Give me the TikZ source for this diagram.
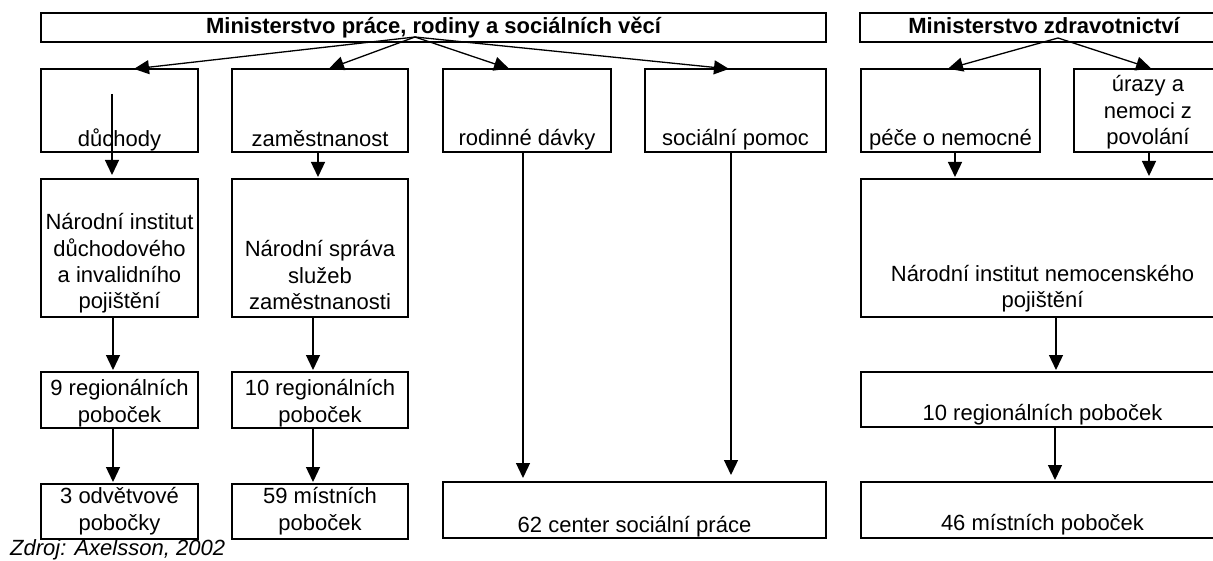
\documentclass[tikz,border=0pt]{standalone}
\usepackage{fontspec}
\setmainfont{Liberation Sans}
\usetikzlibrary{arrows.meta}
\tikzset{
  box/.style={draw, line width=2pt, rectangle, inner sep=0pt, outer sep=0pt},
  txt/.style={inner sep=0pt, outer sep=0pt, anchor=south, align=center, text depth=0pt,
              font=\fontsize{22}{26.5}\selectfont},
  arr/.style={-{Triangle[length=15pt 0 0,width=14pt 0 0]}, line width=1.3pt},
}
\newcommand\mkbox[7]{%
  \node[box, minimum width={(#4)-(#2)}, minimum height={(#5)-(#3)}] (#1) at ({((#2)+(#4))/2},{((#3)+(#5))/2}) {};
  \node[txt] (#1t) at ([yshift=#6pt]#1.south) {#7};}
\begin{document}
\begin{tikzpicture}[x=1pt,y=-1pt]
\useasboundingbox (0,0) rectangle (1213,561);
\mkbox{mpsv}{41}{13}{826}{42}{8}{\bfseries Ministerstvo práce, rodiny a sociálních věcí}
\mkbox{mz}{860}{13}{1228}{42}{8}{\bfseries Ministerstvo zdravotnictví}
\mkbox{duch}{41}{69}{198}{152}{5}{důchody}
\mkbox{zam}{232}{69}{408}{152}{5}{zaměstnanost}
\mkbox{rod}{443}{69}{611}{152}{6}{rodinné dávky}
\mkbox{soc}{645}{69}{826}{152}{6}{sociální pomoc}
\mkbox{pece}{861}{69}{1040}{152}{6}{péče o nemocné}
\mkbox{uraz}{1074}{69}{1222}{152}{7}{úrazy a\\nemoci z\\povolání}
\mkbox{ni}{41}{179}{198}{317}{8}{Národní institut\\důchodového\\a invalidního\\pojištění}
\mkbox{ns}{232}{179}{408}{317}{7}{Národní správa\\služeb\\zaměstnanosti}
\mkbox{ninp}{861}{179}{1224}{317}{9}{Národní institut nemocenského\\pojištění}
\mkbox{rA}{41}{372}{198}{428}{6}{9 regionálních\\poboček}
\mkbox{rB}{232}{372}{408}{428}{6}{10 regionálních\\poboček}
\mkbox{rC}{861}{372}{1224}{427}{7}{10 regionálních poboček}
\mkbox{odv}{41}{484}{198}{539}{9}{3 odvětvové\\pobočky}
\mkbox{mA}{232}{484}{408}{539}{9}{59 místních\\poboček}
\mkbox{cen}{443}{482}{826}{538}{6}{62 center sociální práce}
\mkbox{mB}{861}{482}{1224}{538}{8}{46 místních poboček}
\node[anchor=base west, inner sep=0pt, font=\fontsize{22}{26.5}\selectfont\itshape] (src) at (10,555) {Zdroj: Axelsson, 2002};
% connectors
\coordinate (mpsvsrc) at (415,37);
\draw[arr, shorten >=1pt] (mpsvsrc) -- ([xshift=13.5pt]duch.north);
\draw[arr, shorten >=1pt] (mpsvsrc) -- ([xshift=8pt]zam.north);
\draw[arr, shorten >=1pt] (mpsvsrc) -- ([xshift=-17pt]rod.north);
\draw[arr, shorten >=1pt] (mpsvsrc) -- ([xshift=-5.5pt]soc.north);
\coordinate (mzsrc) at (1058,38);
\draw[arr, shorten >=1pt] (mzsrc) -- ([xshift=-3.5pt]pece.north);
\draw[arr, shorten >=2pt] (mzsrc) -- ([xshift=5pt]uraz.north);
\coordinate (duchin) at (112,94);
\draw[arr, shorten >=4pt] (duchin) -- ([xshift=-7.5pt]ni.north);
\draw[arr, shorten >=2pt] ([xshift=-2pt]zam.south) -- ([xshift=-2pt]ns.north);
\draw[arr, shorten >=2pt] ([xshift=-6.5pt]ni.south) -- ([xshift=-6.5pt]rA.north);
\draw[arr, shorten >=2pt] ([xshift=-7pt]ns.south) -- ([xshift=-7pt]rB.north);
\draw[arr, shorten >=2pt] ([xshift=-6.5pt]rA.south) -- ([xshift=-6.5pt]odv.north);
\draw[arr, shorten >=2pt] ([xshift=-7pt]rB.south) -- ([xshift=-7pt]mA.north);
\draw[arr, shorten >=4pt] ([xshift=-4pt]rod.south) -- ([xshift=-111.5pt]cen.north);
\draw[arr, shorten >=7pt] ([xshift=-4.5pt]soc.south) -- ([xshift=96.5pt]cen.north);
\draw[arr, shorten >=2pt] ([xshift=4.5pt]pece.south) -- ([xshift=-87.5pt]ninp.north);
\draw[arr, shorten >=3pt] ([xshift=1pt]uraz.south) -- ([xshift=106.5pt]ninp.north);
\draw[arr, shorten >=2pt] ([xshift=13.5pt]ninp.south) -- ([xshift=13.5pt]rC.north);
\draw[arr, shorten >=2pt] ([xshift=12.5pt]rC.south) -- ([xshift=12.5pt]mB.north);
\end{tikzpicture}
\end{document}
